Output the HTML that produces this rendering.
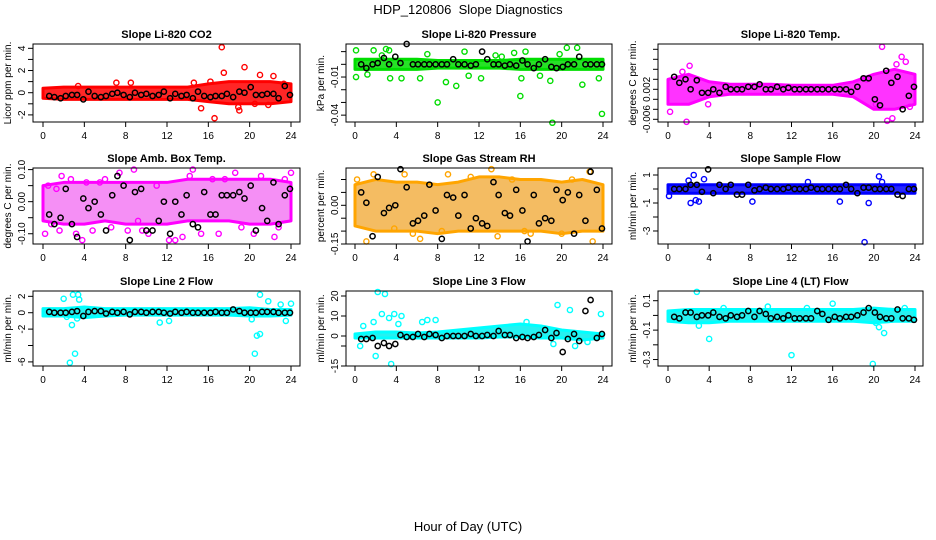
<!DOCTYPE html>
<html><head><meta charset="utf-8"><style>
html,body{margin:0;padding:0;background:#fff;}
svg{display:block;font-family:"Liberation Sans",sans-serif;}
</style></head><body>
<svg id="chart" width="936" height="540" viewBox="0 0 936 540" xmlns="http://www.w3.org/2000/svg">
<text x="468" y="14" text-anchor="middle" font-size="13">HDP_120806&#160; Slope Diagnostics</text>
<text x="468" y="531" text-anchor="middle" font-size="13">Hour of Day (UTC)</text>
</svg>
<script>
// shared arrays
const bandX = [0,2,4,6,8,10,12,14,16,18,20,22,24];
const blackX = [0.6,1.1,1.7,2.2,2.8,3.3,3.9,4.4,5,5.6,6.1,6.7,7.2,7.8,8.4,8.9,9.5,10,10.6,11.2,11.7,12.3,12.8,13.4,13.9,14.5,15,15.6,16.2,16.7,17.3,17.8,18.4,19,19.5,20.1,20.6,21.2,21.7,22.3,22.8,23.4,23.9];
const xTicks = [0,4,8,12,16,20,24];

// P1 CO2
const p1Lo = [-0.5,-0.6,-0.6,-0.6,-0.6,-0.6,-0.6,-0.6,-0.8,-1,-1,-1,-0.8];
const p1Hi = [0.4,0.5,0.5,0.5,0.5,0.5,0.5,0.5,0.8,1,1,1,0.8];
const p1OutX = [17.3,19.5,17.5,22.3,21,16.6,19,15.3,21.8,7.1,8.5,3.4,14.6,16.2,20.5,23.3,18.9];
const p1OutY = [4.1,2.3,1.8,1.5,1.6,-2.3,-1.6,-1.4,-1.1,0.9,0.9,0.6,0.9,1.0,-1.0,0.8,-1.3];
const p1BlkY = [-0.3,-0.4,-0.5,-0.3,-0.2,-0.2,-0.6,0.1,-0.3,-0.4,-0.3,-0.1,0.0,-0.2,-0.4,0.0,-0.2,-0.1,-0.3,-0.2,0.1,-0.5,-0.1,-0.3,-0.2,-0.5,0.1,-0.3,-0.4,-0.3,-0.3,-0.1,-0.4,0.1,0.0,0.5,-0.2,-0.2,-0.1,-0.1,-0.5,0.6,-0.2];
// P2 Pressure
const p2Lo = [-0.004,-0.004,-0.004,-0.004,-0.003,-0.003,-0.003,-0.003,-0.004,-0.004,-0.004,-0.004,-0.004];
const p2Hi = [0.004,0.004,0.004,0.004,0.003,0.003,0.003,0.003,0.004,0.004,0.004,0.004,0.004];
const p2OutX = [0.1,0.1,1.8,3,3.3,3.4,4.5,6.3,7,8,8.8,9.8,10.6,12.2,13.6,15.4,16,16.1,16.5,17.9,19.1,18.9,20.5,21.5,22,23.6,23.9,1.2,2.6,11,14.2,19.8];
const p2OutY = [0.011,-0.010,0.011,0.012,0.011,-0.011,-0.011,-0.011,0.008,-0.030,-0.014,-0.017,0.010,-0.011,0.007,0.009,-0.025,-0.011,0.010,-0.009,-0.046,-0.013,0.013,0.013,-0.016,-0.011,-0.039,-0.008,0.007,-0.009,0.006,0.008];
const p2BlkY = [0,-0.003,0,0.001,0.005,0,0.006,0.001,0.016,0,0,0,0,0,0,0,0.004,0,0,-0.001,0,0.01,0.004,0,0,-0.001,0,-0.001,0.003,0,-0.003,0,0.004,-0.002,-0.003,-0.002,0,0,0.006,0,0,0,0];
// P3 Li-820 Temp
const p3Lo = [-0.003,-0.003,-0.0015,-0.001,-0.001,-0.001,-0.001,-0.001,-0.001,-0.0015,-0.004,-0.004,-0.003];
const p3Hi = [0.002,0.003,0.0015,0.001,0.001,0.001,0.0008,0.0008,0.0008,0.0015,0.003,0.004,0.003];
const p3OutX = [1.8,0.2,2.1,20.8,22.7,23.1,21.3,21.8,20.2,3.9,19.3,22.2,23.5,1.4];
const p3OutY = [-0.0065,-0.0045,0.0047,0.0085,0.0065,0.0055,-0.0063,-0.0058,-0.003,-0.003,0.002,0.005,-0.0035,0.0035];
const p3BlkY = [0.0025,0.0013,0.002,0,0.0018,-0.0007,-0.0007,0,-0.0007,0.0005,0,0,0,0.0005,0.0005,0.001,0,0,0.0005,0,0.0003,0,0,0,0,0,0,0,0,0,0,-0.0005,0.0005,0.0022,0.0022,-0.002,-0.0032,0.0037,0.0013,0.0025,-0.004,-0.0013,0.0005];
// P4 Amb Box Temp
const p4Lo = [-0.06,-0.07,-0.07,-0.06,-0.07,-0.07,-0.07,-0.06,-0.06,-0.06,-0.07,-0.07,-0.06];
const p4Hi = [0.05,0.06,0.06,0.06,0.06,0.06,0.06,0.07,0.07,0.07,0.07,0.07,0.06];
const p4OutX = [0.2,0.8,1.6,1.8,2.7,3.2,3.8,4.2,4.8,6,6.6,7.4,8.2,8.8,9.6,10.2,11,12.2,12.8,14.2,14.5,15.3,16.4,17.6,18.6,19.2,20.4,21.1,22.4,23.4,24,0.5,5.5,13.5,17,22.8,1.3,9.2];
const p4OutY = [-0.1,-0.07,-0.09,0.08,0.07,-0.1,-0.12,0.06,-0.09,0.07,-0.08,0.09,-0.09,0.1,-0.09,-0.1,0.05,-0.12,-0.12,0.08,0.1,-0.1,0.07,0.07,0.09,-0.08,-0.1,0.08,-0.11,0.07,0.09,0.05,0.06,-0.11,-0.1,-0.08,0.04,-0.06];
const p4BlkY = [-0.04,-0.07,-0.05,0.04,-0.07,-0.11,0.01,-0.02,0.0,-0.04,-0.09,0.02,0.08,0.05,-0.12,0.03,0.04,-0.09,-0.09,-0.06,0.0,-0.1,0.0,-0.04,0.02,-0.07,-0.08,0.03,-0.04,-0.04,0.02,0.02,0.02,0.03,0.01,0.05,-0.09,-0.02,-0.06,0.06,-0.07,0.02,0.04];
// P5 Gas stream RH
const p5Lo = [-0.08,-0.1,-0.1,-0.1,-0.11,-0.1,-0.1,-0.1,-0.1,-0.1,-0.11,-0.1,-0.1];
const p5Hi = [0.08,0.1,0.09,0.09,0.08,0.09,0.11,0.11,0.1,0.1,0.09,0.1,0.08];
const p5OutX = [1.1,0.2,1.8,4.8,5.6,6.3,8.4,9,13.2,13.8,15.2,22.7,23,17,20,21,3.8,11.2,16.4];
const p5OutY = [-0.14,0.1,0.12,0.12,-0.11,-0.13,-0.1,0.12,0.14,-0.12,0.1,0.13,-0.14,-0.11,-0.11,0.1,-0.09,0.11,-0.1];
const p5BlkY = [0.05,0.01,-0.12,0.11,-0.03,-0.01,0.0,0.14,0.07,-0.07,-0.06,-0.04,0.08,-0.02,-0.13,0.04,0.03,-0.04,0.04,-0.09,-0.05,-0.07,-0.08,0.09,0.04,-0.03,-0.04,0.06,-0.02,-0.14,0.04,-0.07,-0.05,-0.06,0.06,0.02,0.05,-0.11,0.04,-0.06,0.13,0.06,-0.09];
// P6 Sample flow
const p6Lo = [-0.3,-0.3,-0.3,-0.3,-0.3,-0.3,-0.3,-0.3,-0.3,-0.3,-0.3,-0.3,-0.3];
const p6Hi = [0.3,0.3,0.3,0.3,0.3,0.3,0.3,0.3,0.3,0.3,0.3,0.3,0.3];
const p6OutX = [19.1,2.2,2.7,3,2.5,3.5,8.2,19.5,20.5,0.1,2,16.7,20.8,13.6];
const p6OutY = [-3.8,-1,-0.8,-0.9,1.0,0.7,-0.9,-1,0.9,-0.5,0.6,-0.9,0.5,0.5];
const p6BlkY = [0,0,0,0.3,0.3,-0.2,1.4,-0.3,0.3,0,0.3,-0.4,-0.4,0.3,-0.1,0,0.1,0,0,0,0.1,0,0,0,0.1,0,0,0,0,0,0.3,0,-0.3,0.1,0.1,0,0,0,0,-0.4,-0.5,0,0];
// P7 Line 2 flow
const p7Lo = [-0.4,-0.4,-0.6,-0.4,-0.3,-0.3,-0.3,-0.3,-0.3,-0.3,-0.4,-0.4,-0.3];
const p7Hi = [0.5,0.5,0.7,0.5,0.5,0.5,0.5,0.5,0.5,0.5,0.6,0.4,0.4];
const p7OutX = [2.6,3.1,2,2.9,3.4,3.5,2.8,20.5,20.7,21,21,21.8,23,24,11.3,12.2,20.2,23.5,2.3,3.3];
const p7OutY = [-6.1,-5,1.7,2.2,2.2,1.6,-1.5,-5,-2.8,-2.6,2.2,1.4,1,1.1,-1.2,-1,-0.8,-1,-0.5,-0.7];
const p7BlkY = [0.1,0,0,0,0.1,0.2,-0.4,0.1,0.2,0.2,-0.1,0.1,0,0.1,-0.2,0.1,0.1,0,0.1,0.1,0,-0.1,0.1,0,0.1,0,0,0,0,0.1,0,0,0.4,0.2,0,0,0,0.1,0.1,0.1,0,0,0];
// P8 Line 3 flow
const p8Lo = [-1,-1,-1,-1,-1,-1,-1,-0.5,-0.5,-1,-1,-2,-1];
const p8Hi = [1,2,2,1.5,2,3,4,5,6,5,3,2,1];
const p8OutX = [2.2,2.9,2,3.5,0.5,0.8,1.8,2.6,3.3,3.8,4.5,4.2,6.5,7,7.8,19.6,20.8,23.8,19.2,21.3,22.5,16.6];
const p8OutY = [22,21,-10,-14,-5,5,7,11,9,11,10,6,7,8,8,15.5,13,11,-4,-5,-3,7];
const p8BlkY = [-1.5,-1.5,-1,-5,-3.5,-5,-4,0.5,-0.5,-0.5,1,-0.5,1,0.5,-1,0,0,0,0,1,0,0,0.5,0,2.5,0.5,0.5,-1,-0.5,-1,-0.5,0.5,3,-1,1.5,-8,-1.5,1,-2.5,12.5,18,-1,1];
// P9 Line 4 flow
const p9Lo = [-0.04,-0.05,-0.05,-0.04,-0.04,-0.04,-0.04,-0.04,-0.04,-0.04,-0.05,-0.04,-0.04];
const p9Hi = [0.03,0.04,0.04,0.04,0.04,0.04,0.04,0.04,0.04,0.04,0.05,0.04,0.04];
const p9OutX = [2.8,4,12,19.9,16,5.4,9.7,13.5,20.2,20.5,21,3,23];
const p9OutY = [0.16,-0.16,-0.27,-0.33,0.08,0.05,0.06,0.05,-0.05,-0.08,-0.12,-0.07,0.05];
const p9BlkY = [-0.01,-0.02,0.02,0.02,-0.01,0.0,0.0,0.02,-0.01,-0.02,0.0,-0.01,0.0,0.03,-0.01,0.03,0.01,-0.02,-0.01,-0.02,0.0,-0.02,-0.02,-0.02,-0.02,0.03,0.01,-0.03,-0.01,-0.02,-0.01,-0.01,0.0,0.02,0.05,0.02,-0.01,-0.02,-0.02,0.04,-0.02,-0.02,-0.03];

const panels = [
 {name:'co2',title:'Slope Li-820 CO2',ylab:'Licor ppm per min.',col:0,row:0,dom:[-2.64,4.39],ticks:[-2,-1,0,1,2,3,4],labels:[[-2,'-2'],[0,'0'],[2,'2'],[4,'4']],color:'#ff0000',fill:'#ff0000',op:0.85,lo:p1Lo,hi:p1Hi,ox:p1OutX,oy:p1OutY,by:p1BlkY},
 {name:'pressure',title:'Slope Li-820 Pressure',ylab:'kPa per min.',col:1,row:0,dom:[-0.0454,0.016],ticks:[0.01,0,-0.01,-0.02,-0.03,-0.04],labels:[[-0.01,'-0.01'],[-0.04,'-0.04']],color:'#00dd00',fill:'#00dd00',op:0.85,lo:p2Lo,hi:p2Hi,ox:p2OutX,oy:p2OutY,by:p2BlkY},
 {name:'li820-temp',title:'Slope Li-820 Temp.',ylab:'degrees C per min.',col:2,row:0,dom:[-0.00654,0.00906],ticks:[0.008,0.006,0.004,0.002,0,-0.002,-0.004,-0.006],labels:[[0.0,'0.002'],[-0.006,'-0.006']],color:'#ff00ff',fill:'#ff00ff',op:0.8,lo:p3Lo,hi:p3Hi,ox:p3OutX,oy:p3OutY,by:p3BlkY},
 {name:'amb-box-temp',title:'Slope Amb. Box Temp.',ylab:'degrees C per min.',col:0,row:1,dom:[-0.132,0.105],ticks:[0.1,0.05,0,-0.05,-0.1],labels:[[0.1,'0.10'],[0,'0.00'],[-0.1,'-0.10']],color:'#ff00ff',fill:'#ee44ee',op:0.6,lo:p4Lo,hi:p4Hi,ox:p4OutX,oy:p4OutY,by:p4BlkY},
 {name:'gas-stream-rh',title:'Slope Gas Stream RH',ylab:'percent per min.',col:1,row:1,dom:[-0.150,0.1446],ticks:[0.1,0.05,0,-0.05,-0.1,-0.15],labels:[[0,'0.00'],[-0.15,'-0.15']],color:'#ffa500',fill:'#f0a020',op:0.7,lo:p5Lo,hi:p5Hi,ox:p5OutX,oy:p5OutY,by:p5BlkY},
 {name:'sample-flow',title:'Slope Sample Flow',ylab:'ml/min per min.',col:2,row:1,dom:[-3.93,1.5],ticks:[1,0,-1,-2,-3],labels:[[1,'1'],[-1,'-1'],[-3,'-3']],color:'#0000ff',fill:'#0000ff',op:0.85,lo:p6Lo,hi:p6Hi,ox:p6OutX,oy:p6OutY,by:p6BlkY},
 {name:'line2-flow',title:'Slope Line 2 Flow',ylab:'ml/min per min.',col:0,row:2,dom:[-6.5,2.65],ticks:[2,0,-2,-4,-6],labels:[[2,'2'],[0,'0'],[-2,'-2'],[-6,'-6']],color:'#00ffff',fill:'#00eeee',op:0.85,lo:p7Lo,hi:p7Hi,ox:p7OutX,oy:p7OutY,by:p7BlkY},
 {name:'line3-flow',title:'Slope Line 3 Flow',ylab:'ml/min per min.',col:1,row:2,dom:[-15,22.5],ticks:[20,10,0,-5,-15],labels:[[20,'20'],[10,'10'],[0,'0'],[-15,'-15']],color:'#00ffff',fill:'#00eeee',op:0.85,lo:p8Lo,hi:p8Hi,ox:p8OutX,oy:p8OutY,by:p8BlkY},
 {name:'line4-flow',title:'Slope Line 4 (LT) Flow',ylab:'ml/min per min.',col:2,row:2,dom:[-0.344,0.166],ticks:[0.1,0,-0.1,-0.2,-0.3],labels:[[0.1,'0.1'],[-0.1,'-0.1'],[-0.3,'-0.3']],color:'#00ffff',fill:'#00eeee',op:0.85,lo:p9Lo,hi:p9Hi,ox:p9OutX,oy:p9OutY,by:p9BlkY}
];
const colBox = [[33,300,43,291],[346,612,355,603],[658,923,668,915]];
const rowBox = [[44,122],[168,244],[291,366]];
const NS='http://www.w3.org/2000/svg';
const svg=document.getElementById('chart');
function mk(tag,attrs,parent){const e=document.createElementNS(NS,tag);for(const k in attrs)e.setAttribute(k,attrs[k]);(parent||svg).appendChild(e);return e;}

panels.forEach(p=>{
  const [bx0,bx1,px0,px1]=colBox[p.col];
  const [by0,by1]=rowBox[p.row];
  const xs=v=>px0+(v/24)*(px1-px0);
  const ys=v=>by1-(v-p.dom[0])/(p.dom[1]-p.dom[0])*(by1-by0);
  const g=mk('g',{});
  
  
  const t=mk('text',{x:(bx0+bx1)/2,y:by0-6,'text-anchor':'middle','font-size':'11','font-weight':'bold'},g);
  t.textContent=p.title;
  
  
  const yl=mk('text',{x:0,y:0,'text-anchor':'middle','font-size':'10',transform:`translate(${bx0-22},${(by0+by1)/2}) rotate(-90)`},g);
  yl.textContent=p.ylab;
  
  
  let pts=bandX.map((h,i)=>xs(h)+','+ys(p.hi[i]));
  pts=pts.concat(bandX.map((h,i)=>xs(h)+','+ys(p.lo[i])).reverse());
  const band=mk('polygon',{points:pts.join(' '),fill:p.fill,'fill-opacity':p.op,stroke:p.color,'stroke-width':'3','stroke-linejoin':'round'},g);
  
  
  p.ox.forEach((x,i)=>{
    const c=mk('circle',{cx:xs(x),cy:ys(p.oy[i]),r:2.6,fill:'none',stroke:p.color,'stroke-width':'1.4'},g);
    
    
  });
  blackX.forEach((x,i)=>{
    const c=mk('circle',{cx:xs(x),cy:ys(p.by[i]),r:2.6,fill:'none',stroke:'#000','stroke-width':'1.5'},g);
    
    
  });
  const box=mk('rect',{x:bx0,y:by0,width:bx1-bx0,height:by1-by0,fill:'none',stroke:'#000','stroke-width':'1'},g);
  
  
  xTicks.forEach(v=>{
    mk('line',{x1:xs(v),x2:xs(v),y1:by1,y2:by1+5,stroke:'#000'},g);
    const l=mk('text',{x:xs(v),y:by1+17,'text-anchor':'middle','font-size':'10'},g);
    l.textContent=v;
    
    
  });
  p.ticks.forEach(v=>{mk('line',{x1:bx0-5,x2:bx0,y1:ys(v),y2:ys(v),stroke:'#000'},g);});
  p.labels.forEach(([v,s])=>{
    const l=mk('text',{x:0,y:0,'text-anchor':'middle','font-size':'10',transform:`translate(${bx0-8},${ys(v)}) rotate(-90)`},g);
    l.textContent=s;
    
    
  });
});
</script>
</body></html>
